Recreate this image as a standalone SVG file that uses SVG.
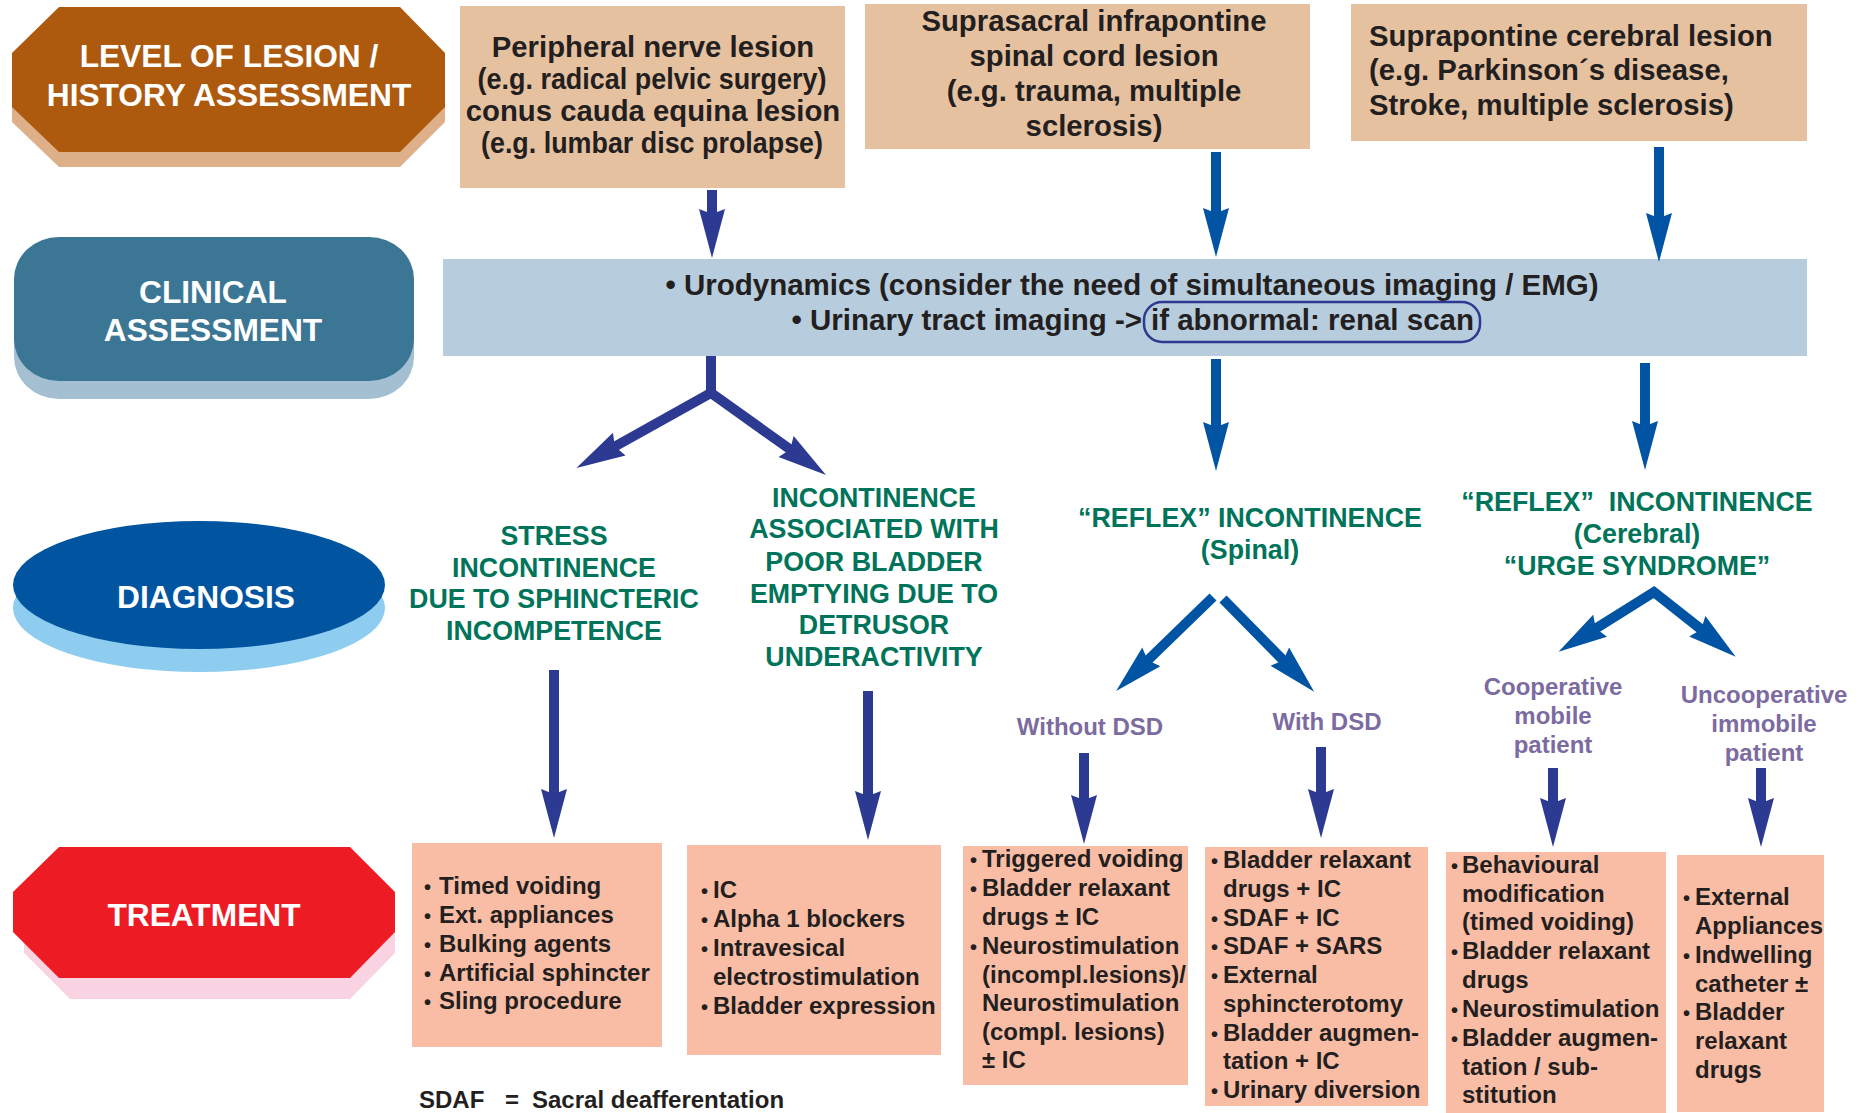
<svg xmlns="http://www.w3.org/2000/svg" width="1861" height="1113" viewBox="0 0 1861 1113">
<style>
text { font-family: "Liberation Sans", Arial, sans-serif; font-weight: bold; }
.hdr { fill: #FFFFFF; font-size: 31.7px; text-anchor: middle; }
.src { fill: #231F20; font-size: 29.3px; }
.mid { text-anchor: middle; }
.band { fill: #231F20; font-size: 29.5px; }
.dx { fill: #00745A; font-size: 26.8px; text-anchor: middle; white-space: pre; }
.pu { fill: #7C6BA0; font-size: 24px; text-anchor: middle; }
.tx { fill: #231F20; font-size: 24px; }
.bul { font-size: 20px; }
.srcbox { fill: #E6C1A0; }
.trbox { fill: #F9BDA5; }
.nv { stroke: #2C3A92; stroke-width: 10; fill: none; marker-end: url(#hN); stroke-linejoin: miter; }
.bl { stroke: #0054A3; stroke-width: 10; fill: none; marker-end: url(#hB); stroke-linejoin: miter; }
.two { marker-start: url(#hN); }
.twoB { marker-start: url(#hB); }
</style>
<defs>
<marker id="hN" markerUnits="userSpaceOnUse" markerWidth="60" markerHeight="30" viewBox="0 -15 60 30" refX="6" refY="0" orient="auto-start-reverse" overflow="visible">
<path d="M0,-13 L49,0 L0,13 L5,0 Z" fill="#2C3A92"/>
</marker>
<marker id="hB" markerUnits="userSpaceOnUse" markerWidth="60" markerHeight="30" viewBox="0 -15 60 30" refX="6" refY="0" orient="auto-start-reverse" overflow="visible">
<path d="M0,-13 L49,0 L0,13 L5,0 Z" fill="#0054A3"/>
</marker>
</defs>

<!-- Row labels -->
<g id="hdr-level">
<polygon points="59,22 400,22 445,68 445,122 400,167 59,167 12,122 12,68" fill="#DDB089"/>
<polygon points="59,7 400,7 445,53 445,107 400,152 59,152 12,107 12,53" fill="#AD5A0F"/>
<text class="hdr" x="229" y="67">LEVEL OF LESION /</text>
<text class="hdr" x="229" y="106">HISTORY ASSESSMENT</text>
</g>
<g id="hdr-clinical">
<rect x="14" y="255" width="400" height="144" rx="45" ry="42" fill="#A4BFD2"/>
<rect x="14" y="237" width="400" height="144" rx="45" ry="42" fill="#3B7795"/>
<text class="hdr" x="213" y="303">CLINICAL</text>
<text class="hdr" x="213" y="341">ASSESSMENT</text>
</g>
<g id="hdr-diagnosis">
<ellipse cx="199" cy="608" rx="186" ry="64" fill="#8ECDEF"/>
<ellipse cx="199" cy="585" rx="186" ry="64" fill="#0054A0"/>
<text class="hdr" x="206" y="608">DIAGNOSIS</text>
</g>
<g id="hdr-treatment">
<polygon points="70,868 350,868 395,913 395,953 350,999 70,999 24,953 24,913" fill="#F9D3E1"/>
<polygon points="59,847 350,847 395,892 395,932 350,978 59,978 13,932 13,892" fill="#ED1C24"/>
<text class="hdr" x="204" y="926">TREATMENT</text>
</g>

<!-- Level of lesion boxes -->
<g id="src-peripheral">
<rect class="srcbox" x="460" y="6" width="385" height="182"/>
<text class="src mid" x="653" y="57">Peripheral nerve lesion</text>
<text class="src mid" x="652" y="89" textLength="349" lengthAdjust="spacingAndGlyphs">(e.g. radical pelvic surgery)</text>
<text class="src mid" x="653" y="121">conus cauda equina lesion</text>
<text class="src mid" x="652" y="153" textLength="342" lengthAdjust="spacingAndGlyphs">(e.g. lumbar disc prolapse)</text>
</g>
<g id="src-spinal">
<rect class="srcbox" x="865" y="4" width="445" height="145"/>
<text class="src mid" x="1094" y="31">Suprasacral infrapontine</text>
<text class="src mid" x="1094" y="66">spinal cord lesion</text>
<text class="src mid" x="1094" y="101">(e.g. trauma, multiple</text>
<text class="src mid" x="1094" y="136">sclerosis)</text>
</g>
<g id="src-cerebral">
<rect class="srcbox" x="1351" y="4" width="456" height="137"/>
<text class="src" x="1369" y="46">Suprapontine cerebral lesion</text>
<text class="src" x="1369" y="80">(e.g. Parkinson´s disease,</text>
<text class="src" x="1369" y="115">Stroke, multiple sclerosis)</text>
</g>

<!-- Clinical assessment band -->
<g id="clinical-band">
<rect x="443" y="259" width="1364" height="97" fill="#B7CCDD"/>
<text class="band mid" x="1132" y="295">• Urodynamics (consider the need of simultaneous imaging / EMG)</text>
<text class="band" x="1142" y="330" text-anchor="end">• Urinary tract imaging -&gt;</text>
<rect x="1144" y="302" width="336" height="40" rx="18" ry="18" fill="none" stroke="#2C3A92" stroke-width="2.5"/>
<text class="band" x="1151" y="330">if abnormal: renal scan</text>
</g>

<!-- Diagnoses -->
<g id="dx-stress">
<text class="dx" x="554" y="545">STRESS</text>
<text class="dx" x="554" y="577">INCONTINENCE</text>
<text class="dx" x="554" y="608">DUE TO SPHINCTERIC</text>
<text class="dx" x="554" y="640">INCOMPETENCE</text>
</g>
<g id="dx-underactivity">
<text class="dx" x="874" y="507">INCONTINENCE</text>
<text class="dx" x="874" y="538">ASSOCIATED WITH</text>
<text class="dx" x="874" y="571">POOR BLADDER</text>
<text class="dx" x="874" y="603">EMPTYING DUE TO</text>
<text class="dx" x="874" y="634">DETRUSOR</text>
<text class="dx" x="874" y="666">UNDERACTIVITY</text>
</g>
<g id="dx-reflex-spinal">
<text class="dx" x="1250" y="527">“REFLEX” INCONTINENCE</text>
<text class="dx" x="1250" y="559">(Spinal)</text>
</g>
<g id="dx-reflex-cerebral">
<text class="dx" x="1637" y="511">“REFLEX”  INCONTINENCE</text>
<text class="dx" x="1637" y="543">(Cerebral)</text>
<text class="dx" x="1637" y="575">“URGE SYNDROME”</text>
</g>

<!-- Sub-branches -->
<g id="sub-without-dsd"><text class="pu" x="1090" y="735">Without DSD</text></g>
<g id="sub-with-dsd"><text class="pu" x="1327" y="730">With DSD</text></g>
<g id="sub-cooperative">
<text class="pu" x="1553" y="695">Cooperative</text>
<text class="pu" x="1553" y="724">mobile</text>
<text class="pu" x="1553" y="753">patient</text>
</g>
<g id="sub-uncooperative">
<text class="pu" x="1764" y="703">Uncooperative</text>
<text class="pu" x="1764" y="732">immobile</text>
<text class="pu" x="1764" y="761">patient</text>
</g>

<!-- Treatments -->
<g id="tx-stress">
<rect class="trbox" x="412" y="843" width="250" height="204"/>
<text class="tx" y="894"><tspan class="bul" x="424">•</tspan><tspan x="439">Timed voiding</tspan></text>
<text class="tx" y="923"><tspan class="bul" x="424">•</tspan><tspan x="439">Ext. appliances</tspan></text>
<text class="tx" y="952"><tspan class="bul" x="424">•</tspan><tspan x="439">Bulking agents</tspan></text>
<text class="tx" y="981"><tspan class="bul" x="424">•</tspan><tspan x="439">Artificial sphincter</tspan></text>
<text class="tx" y="1009"><tspan class="bul" x="424">•</tspan><tspan x="439">Sling procedure</tspan></text>
</g>
<g id="tx-underactivity">
<rect class="trbox" x="687" y="845" width="254" height="210"/>
<text class="tx" y="898"><tspan class="bul" x="701">•</tspan><tspan x="713">IC</tspan></text>
<text class="tx" y="927"><tspan class="bul" x="701">•</tspan><tspan x="713">Alpha 1 blockers</tspan></text>
<text class="tx" y="956"><tspan class="bul" x="701">•</tspan><tspan x="713">Intravesical</tspan></text>
<text class="tx" x="713" y="985">electrostimulation</text>
<text class="tx" y="1014"><tspan class="bul" x="701">•</tspan><tspan x="713">Bladder expression</tspan></text>
</g>
<g id="tx-without-dsd">
<rect class="trbox" x="963" y="846" width="225" height="239"/>
<text class="tx" y="867"><tspan class="bul" x="970">•</tspan><tspan x="982">Triggered voiding</tspan></text>
<text class="tx" y="896"><tspan class="bul" x="970">•</tspan><tspan x="982">Bladder relaxant</tspan></text>
<text class="tx" x="982" y="925">drugs ± IC</text>
<text class="tx" y="954"><tspan class="bul" x="970">•</tspan><tspan x="982">Neurostimulation</tspan></text>
<text class="tx" x="982" y="983">(incompl.lesions)/</text>
<text class="tx" x="982" y="1011">Neurostimulation</text>
<text class="tx" x="982" y="1040">(compl. lesions)</text>
<text class="tx" x="982" y="1068">± IC</text>
</g>
<g id="tx-with-dsd">
<rect class="trbox" x="1205" y="847" width="223" height="259"/>
<text class="tx" y="868"><tspan class="bul" x="1211">•</tspan><tspan x="1223">Bladder relaxant</tspan></text>
<text class="tx" x="1223" y="897">drugs + IC</text>
<text class="tx" y="926"><tspan class="bul" x="1211">•</tspan><tspan x="1223">SDAF + IC</tspan></text>
<text class="tx" y="954"><tspan class="bul" x="1211">•</tspan><tspan x="1223">SDAF + SARS</tspan></text>
<text class="tx" y="983"><tspan class="bul" x="1211">•</tspan><tspan x="1223">External</tspan></text>
<text class="tx" x="1223" y="1012">sphincterotomy</text>
<text class="tx" y="1041"><tspan class="bul" x="1211">•</tspan><tspan x="1223">Bladder augmen-</tspan></text>
<text class="tx" x="1223" y="1069">tation + IC</text>
<text class="tx" y="1098"><tspan class="bul" x="1211">•</tspan><tspan x="1223">Urinary diversion</tspan></text>
</g>
<g id="tx-cooperative">
<rect class="trbox" x="1446" y="852" width="220" height="261"/>
<text class="tx" y="873"><tspan class="bul" x="1451">•</tspan><tspan x="1462">Behavioural</tspan></text>
<text class="tx" x="1462" y="902">modification</text>
<text class="tx" x="1462" y="930">(timed voiding)</text>
<text class="tx" y="959"><tspan class="bul" x="1451">•</tspan><tspan x="1462">Bladder relaxant</tspan></text>
<text class="tx" x="1462" y="988">drugs</text>
<text class="tx" y="1017"><tspan class="bul" x="1451">•</tspan><tspan x="1462">Neurostimulation</tspan></text>
<text class="tx" y="1046"><tspan class="bul" x="1451">•</tspan><tspan x="1462">Bladder augmen-</tspan></text>
<text class="tx" x="1462" y="1075">tation / sub-</text>
<text class="tx" x="1462" y="1103">stitution</text>
</g>
<g id="tx-uncooperative">
<rect class="trbox" x="1677" y="855" width="147" height="257"/>
<text class="tx" y="905"><tspan class="bul" x="1683">•</tspan><tspan x="1695">External</tspan></text>
<text class="tx" x="1695" y="934">Appliances</text>
<text class="tx" y="963"><tspan class="bul" x="1683">•</tspan><tspan x="1695">Indwelling</tspan></text>
<text class="tx" x="1695" y="992">catheter ±</text>
<text class="tx" y="1020"><tspan class="bul" x="1683">•</tspan><tspan x="1695">Bladder</tspan></text>
<text class="tx" x="1695" y="1049">relaxant</text>
<text class="tx" x="1695" y="1078">drugs</text>
</g>

<g id="footnote">
<text class="tx" y="1108"><tspan x="419">SDAF</tspan><tspan x="505">=</tspan><tspan x="532">Sacral deafferentation</tspan></text>
</g>

<!-- Connectors -->
<g id="connectors">
<path class="nv" d="M712,190 V215"/>
<path class="bl" d="M1216,152 V214"/>
<path class="bl" d="M1659,147 V219"/>
<path class="nv" d="M711,356 V394" style="marker-end:none"/>
<path class="nv two" d="M614,447 L711,393 L791,450"/>
<path class="bl" d="M1216,359 V428"/>
<path class="bl" d="M1645,363 V427"/>
<path class="bl" d="M1213,597 L1147,661"/>
<path class="bl" d="M1223,599 L1284,661"/>
<path class="bl twoB" d="M1595,629 L1654,592 L1702,630"/>
<path class="nv" d="M554,670 V795"/>
<path class="nv" d="M868,691 V797"/>
<path class="nv" d="M1084,753 V801"/>
<path class="nv" d="M1321,747 V795"/>
<path class="nv" d="M1553,768 V804"/>
<path class="nv" d="M1761,768 V804"/>
</g>
</svg>
